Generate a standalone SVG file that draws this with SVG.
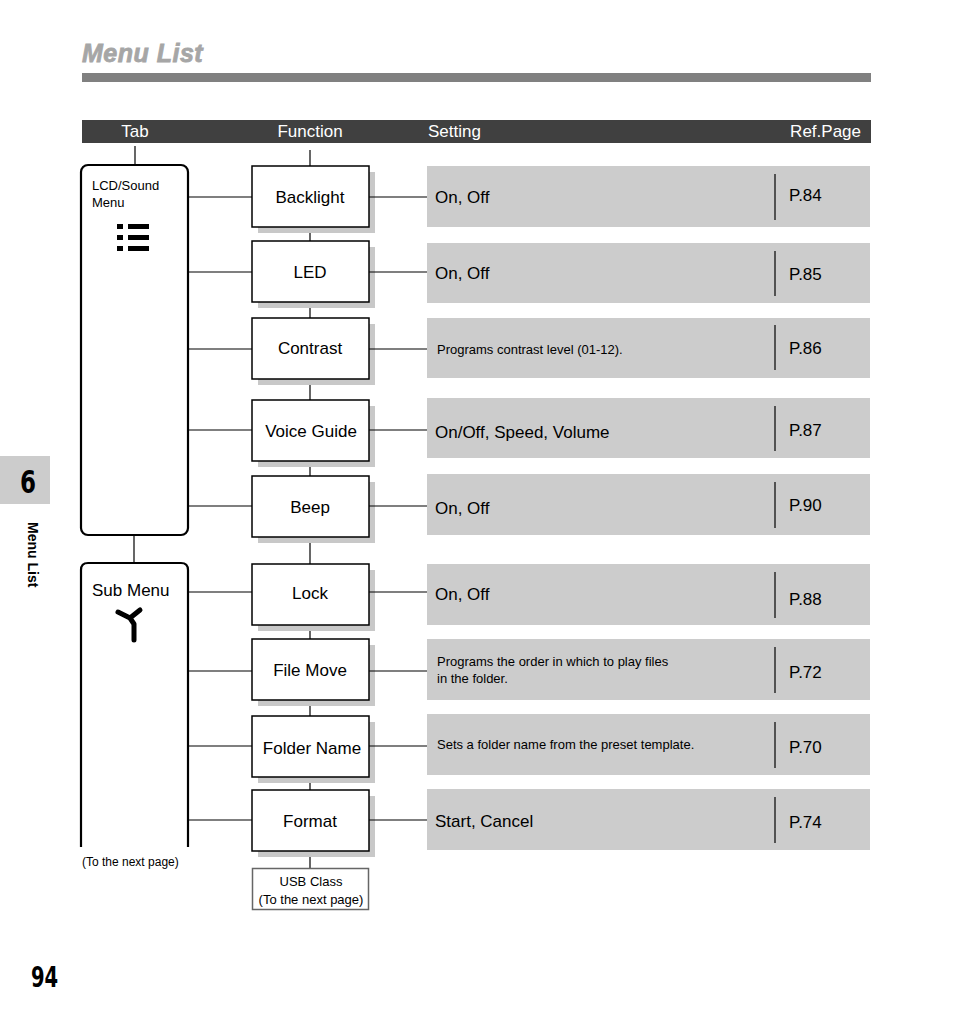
<svg xmlns="http://www.w3.org/2000/svg" width="954" height="1022" viewBox="0 0 954 1022">
<style>
text{font-family:"Liberation Sans",Arial,sans-serif;fill:#000}
.fb{fill:#fff;stroke:#000;stroke-width:1.5}
.sh{fill:#c8c8c8}
.ft{font-size:17px;text-anchor:middle}
.sb{fill:#cccccc}
.st{font-size:17px}
.ss{font-size:13px}
.ln{stroke:#000;stroke-width:1.2;fill:none}
.dv{stroke:#000;stroke-width:1.2}
</style>
<rect width="954" height="1022" fill="#fff"/>
<text x="82" y="62" font-size="25" font-weight="bold" font-style="italic" stroke="#a6a6a6" stroke-width="0.8" letter-spacing="0.5" style="fill:#a6a6a6">Menu List</text>
<rect x="82" y="73" width="789" height="9" fill="#808080"/>
<rect x="82" y="120" width="789" height="23" fill="#404040"/>
<g font-size="17">
<text x="135" y="137" text-anchor="middle" style="fill:#fff">Tab</text>
<text x="310" y="137" text-anchor="middle" style="fill:#fff">Function</text>
<text x="428" y="137" style="fill:#fff">Setting</text>
<text x="861" y="137" text-anchor="end" style="fill:#fff">Ref.Page</text>
</g>
<rect x="0" y="456" width="50" height="48" fill="#cccccc"/>
<text transform="translate(20,493) scale(0.8,1)" font-size="32" font-weight="bold" style="font-family:'DejaVu Sans Condensed',sans-serif">6</text>
<text transform="translate(28,522) rotate(90)" font-size="14" font-weight="bold">Menu List</text>
<text transform="translate(31,987) scale(0.75,1)" font-size="29" font-weight="bold" style="font-family:'DejaVu Sans Condensed',sans-serif">94</text>

<g id="connectors">
<line class="ln" x1="135" y1="146" x2="135" y2="165"/>
<line class="ln" x1="134" y1="535" x2="134" y2="563" stroke-width="2"/>
<line class="ln" x1="310" y1="150" x2="310" y2="868" stroke-width="2"/>
<g>
<line class="ln" x1="188" y1="197" x2="252" y2="197"/>
<line class="ln" x1="188" y1="272" x2="252" y2="272"/>
<line class="ln" x1="188" y1="349" x2="252" y2="349"/>
<line class="ln" x1="188" y1="430" x2="252" y2="430"/>
<line class="ln" x1="188" y1="506" x2="252" y2="506"/>
<line class="ln" x1="188" y1="592" x2="252" y2="592"/>
<line class="ln" x1="188" y1="671" x2="252" y2="671"/>
<line class="ln" x1="188" y1="746" x2="252" y2="746" stroke-width="2"/>
<line class="ln" x1="188" y1="820" x2="252" y2="820"/>
</g>
</g>

<g id="tab-lcd">
<rect x="81" y="165" width="107" height="370" rx="7" fill="#fff" stroke="#000" stroke-width="2.2"/>
<text x="92" y="190" font-size="13">LCD/Sound</text>
<text x="92" y="207" font-size="13">Menu</text>
<g fill="#000"><rect x="117" y="224" width="6" height="5"/><rect x="128" y="224" width="21" height="5"/><rect x="117" y="235" width="6" height="5"/><rect x="128" y="235" width="21" height="5"/><rect x="117" y="246" width="6" height="5"/><rect x="128" y="246" width="21" height="5"/></g>
</g>
<g id="tab-sub">
<path d="M81,847 V570 Q81,563 88,563 H181 Q188,563 188,570 V847" fill="#fff" stroke="#000" stroke-width="2.2"/>
<text x="92" y="596" font-size="17">Sub Menu</text>
<path d="M118,612 L130,618 L140,610 M130,618 L134,624 L134,640" stroke="#000" stroke-width="5" fill="none" stroke-linecap="round" stroke-linejoin="round"/>
<text x="82" y="866" font-size="12">(To the next page)</text>
</g>

<g id="func-boxes">
<g id="f-backlight"><rect class="sh" x="258" y="172" width="117" height="61"/><rect class="fb" x="252" y="166" width="117" height="61"/><text class="ft" x="310" y="203">Backlight</text></g>
<g id="f-led"><rect class="sh" x="258" y="247" width="117" height="61"/><rect class="fb" x="252" y="241" width="117" height="61"/><text class="ft" x="310" y="278">LED</text></g>
<g id="f-contrast"><rect class="sh" x="258" y="324" width="117" height="61"/><rect class="fb" x="252" y="318" width="117" height="61"/><text class="ft" x="310" y="354">Contrast</text></g>
<g id="f-voice"><rect class="sh" x="258" y="406" width="117" height="61"/><rect class="fb" x="252" y="400" width="117" height="61"/><text class="ft" x="311" y="437">Voice Guide</text></g>
<g id="f-beep"><rect class="sh" x="258" y="482" width="117" height="61"/><rect class="fb" x="252" y="476" width="117" height="61"/><text class="ft" x="310" y="513">Beep</text></g>
<g id="f-lock"><rect class="sh" x="258" y="570" width="117" height="61"/><rect class="fb" x="252" y="564" width="117" height="61"/><text class="ft" x="310" y="599">Lock</text></g>
<g id="f-filemove"><rect class="sh" x="258" y="645" width="117" height="61"/><rect class="fb" x="252" y="639" width="117" height="61"/><text class="ft" x="310" y="676">File Move</text></g>
<g id="f-folder"><rect class="sh" x="258" y="722" width="117" height="61"/><rect class="fb" x="252" y="716" width="117" height="61"/><text class="ft" x="312" y="754">Folder Name</text></g>
<g id="f-format"><rect class="sh" x="258" y="796" width="117" height="61"/><rect class="fb" x="252" y="790" width="117" height="61"/><text class="ft" x="310" y="827">Format</text></g>
<g id="f-usb"><rect x="252.5" y="868.5" width="116" height="41" fill="#fff" stroke="#666" stroke-width="1.5"/><text x="311" y="886" font-size="13" text-anchor="middle">USB Class</text><text x="311" y="904" font-size="13" text-anchor="middle">(To the next page)</text></g>
</g>

<g id="connectors-right">
<line class="ln" x1="369" y1="197" x2="427" y2="197"/>
<line class="ln" x1="369" y1="272" x2="427" y2="272" stroke-width="2"/>
<line class="ln" x1="369" y1="349" x2="427" y2="349"/>
<line class="ln" x1="369" y1="430" x2="427" y2="430"/>
<line class="ln" x1="369" y1="506" x2="427" y2="506"/>
<line class="ln" x1="369" y1="592" x2="427" y2="592"/>
<line class="ln" x1="369" y1="671" x2="427" y2="671"/>
<line class="ln" x1="369" y1="746" x2="427" y2="746" stroke-width="2"/>
<line class="ln" x1="369" y1="820" x2="427" y2="820"/>
</g>

<g id="settings">
<g id="s-backlight"><rect class="sb" x="427" y="166" width="443" height="61"/><text class="st" x="435" y="203">On, Off</text><line class="dv" x1="775" y1="174" x2="775" y2="220"/><text class="st" x="789" y="201">P.84</text></g>
<g id="s-led"><rect class="sb" x="427" y="243" width="443" height="60"/><text class="st" x="435" y="279">On, Off</text><line class="dv" x1="775" y1="251" x2="775" y2="296"/><text class="st" x="789" y="280">P.85</text></g>
<g id="s-contrast"><rect class="sb" x="427" y="318" width="443" height="60"/><text class="ss" x="437" y="354">Programs contrast level (01-12).</text><line class="dv" x1="775" y1="325" x2="775" y2="370"/><text class="st" x="789" y="354">P.86</text></g>
<g id="s-voice"><rect class="sb" x="427" y="398" width="443" height="60"/><text class="st" x="435" y="438">On/Off, Speed, Volume</text><line class="dv" x1="775" y1="406" x2="775" y2="451"/><text class="st" x="789" y="436">P.87</text></g>
<g id="s-beep"><rect class="sb" x="427" y="474" width="443" height="61"/><text class="st" x="435" y="514">On, Off</text><line class="dv" x1="775" y1="482" x2="775" y2="528"/><text class="st" x="789" y="511">P.90</text></g>
<g id="s-lock"><rect class="sb" x="427" y="564" width="443" height="61"/><text class="st" x="435" y="600">On, Off</text><line class="dv" x1="775" y1="572" x2="775" y2="618"/><text class="st" x="789" y="605">P.88</text></g>
<g id="s-filemove"><rect class="sb" x="427" y="639" width="443" height="61"/><text class="ss" x="437" y="666">Programs the order in which to play files</text><text class="ss" x="437" y="683">in the folder.</text><line class="dv" x1="775" y1="647" x2="775" y2="693"/><text class="st" x="789" y="678">P.72</text></g>
<g id="s-folder"><rect class="sb" x="427" y="714" width="443" height="61"/><text class="ss" x="437" y="749">Sets a folder name from the preset template.</text><line class="dv" x1="775" y1="722" x2="775" y2="768"/><text class="st" x="789" y="753">P.70</text></g>
<g id="s-format"><rect class="sb" x="427" y="789" width="443" height="61"/><text class="st" x="435" y="827">Start, Cancel</text><line class="dv" x1="775" y1="797" x2="775" y2="843"/><text class="st" x="789" y="828">P.74</text></g>
</g>
</svg>
